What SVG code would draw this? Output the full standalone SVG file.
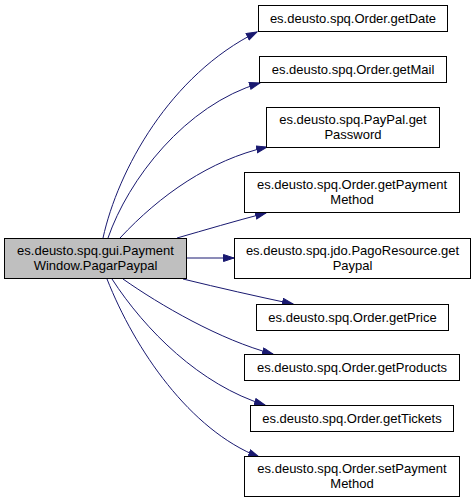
<svg xmlns="http://www.w3.org/2000/svg" width="476" height="503" viewBox="0 0 476 503">
<defs>
<style>
.node rect{fill:#ffffff;stroke:#000000;stroke-width:1}
.node.main rect{fill:#bfbfbf}
.node text{font-family:"Liberation Sans",Arial,sans-serif;font-size:13px;fill:#000000;text-anchor:middle}
.edge path{fill:none;stroke:#191970;stroke-width:1;marker-end:url(#arrow)}
</style>
<marker id="arrow" markerUnits="userSpaceOnUse" markerWidth="12" markerHeight="9" refX="11" refY="4" orient="auto" viewBox="0 0 12 9">
<path d="M0.5,0.5 L11,4 L0.5,7.5 Z" fill="#191970" stroke="#191970" stroke-width="1"/>
</marker>
</defs>
<rect width="476" height="503" fill="#ffffff"/>
<g id="edges" class="edge">
<path d="M103,238 C118,170 170,75 257,32"/>
<path d="M108,238 C128,180 185,105 260,83"/>
<path d="M120,238 C160,195 210,160 267,147"/>
<path d="M177,238 C205,230 235,221 266,213"/>
<path d="M187,258 L234,258"/>
<path d="M183,279 C220,288 255,296 293,304"/>
<path d="M123,279 C160,305 220,340 273,354"/>
<path d="M112,279 C145,330 200,385 265,405"/>
<path d="M107,279 C135,350 190,430 259,457"/>
</g>
<g id="node-main" class="node main">
<rect x="4.5" y="238.5" width="182" height="40"/>
<text x="95.5" y="255">es.deusto.spq.gui.Payment</text>
<text x="95.5" y="269.5">Window.PagarPaypal</text>
</g>
<g id="node-getDate" class="node">
<rect x="258.5" y="5.5" width="189" height="26"/>
<text x="353" y="22.5">es.deusto.spq.Order.getDate</text>
</g>
<g id="node-getMail" class="node">
<rect x="259.5" y="56.5" width="187" height="26"/>
<text x="353" y="73.5">es.deusto.spq.Order.getMail</text>
</g>
<g id="node-getPassword" class="node">
<rect x="266.5" y="107.5" width="173" height="40"/>
<text x="353" y="124">es.deusto.spq.PayPal.get</text>
<text x="353" y="138.5">Password</text>
</g>
<g id="node-getPaymentMethod" class="node">
<rect x="244.5" y="172.5" width="215" height="40"/>
<text x="352" y="189">es.deusto.spq.Order.getPayment</text>
<text x="352" y="203.5">Method</text>
</g>
<g id="node-getPaypal" class="node">
<rect x="234.5" y="238.5" width="236" height="40"/>
<text x="352.5" y="255">es.deusto.spq.jdo.PagoResource.get</text>
<text x="352.5" y="269.5">Paypal</text>
</g>
<g id="node-getPrice" class="node">
<rect x="256.5" y="304.5" width="192" height="26"/>
<text x="352.5" y="321.5">es.deusto.spq.Order.getPrice</text>
</g>
<g id="node-getProducts" class="node">
<rect x="244.5" y="354.5" width="215" height="26"/>
<text x="352" y="371.5">es.deusto.spq.Order.getProducts</text>
</g>
<g id="node-getTickets" class="node">
<rect x="250.5" y="405.5" width="203" height="26"/>
<text x="352" y="422.5">es.deusto.spq.Order.getTickets</text>
</g>
<g id="node-setPaymentMethod" class="node">
<rect x="244.5" y="456.5" width="215" height="40"/>
<text x="352" y="473">es.deusto.spq.Order.setPayment</text>
<text x="352" y="487.5">Method</text>
</g>
</svg>
